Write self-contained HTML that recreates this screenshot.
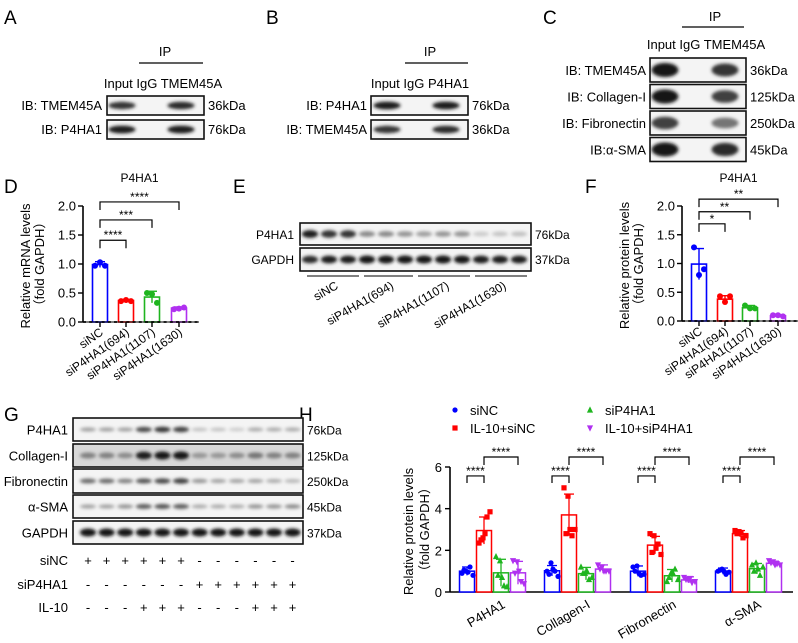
<!DOCTYPE html>
<html><head><meta charset="utf-8"><style>
html,body{margin:0;padding:0;background:#fff;}
svg{display:block;font-family:"Liberation Sans",Arial,sans-serif;}
.nar{font-family:"Liberation Sans Narrow","Liberation Sans",Arial,sans-serif;}
</style></head><body>
<svg id="fig" width="798" height="643" viewBox="0 0 798 643" xmlns="http://www.w3.org/2000/svg">
<defs>
<filter id="blur" x="-50%" y="-100%" width="200%" height="300%"><feGaussianBlur stdDeviation="1.6"/></filter>
</defs>
<g id="root"></g>
</svg>
<script>
// ---------- Panel D data ----------
const dCats = ["siNC","siP4HA1(694)","siP4HA1(1107)","siP4HA1(1630)"];
const dMeans = [0.99,0.37,0.43,0.24];
const dSD = [0.05,0.02,0.10,0.02];
const dPoints = [[0.97,0.97,1.03],[0.36,0.36,0.38],[0.50,0.33,0.48],[0.22,0.25,0.23]];
const dTicks = [0,0.5,1.0,1.5,2.0];
const dSig = ["****","***","****"];
// ---------- Panel F data ----------
const fCats = ["siNC","siP4HA1(694)","siP4HA1(1107)","siP4HA1(1630)"];
const fMeans = [0.99,0.38,0.23,0.09];
const fSD = [0.27,0.06,0.04,0.02];
const fPoints = [[1.28,0.90,0.80],[0.43,0.43,0.33],[0.27,0.22,0.22],[0.10,0.08,0.10]];
const fTicks = [0,0.5,1.0,1.5,2.0];
const fSig = ["*","**","**"];
// ---------- Panel H data ----------
const hCats = ["P4HA1","Collagen-I","Fibronectin","α-SMA"];
const hSeries = ["siNC","IL-10+siNC","siP4HA1","IL-10+siP4HA1"];
const hMeans = [[1.0,1.02,1.0,1.0],[2.95,3.7,2.25,2.8],[0.92,0.88,0.78,1.12],[0.92,1.1,0.58,1.38]];
const hSD = [[0.2,0.25,0.25,0.15],[0.65,1.0,0.42,0.15],[0.65,0.3,0.3,0.25],[0.55,0.2,0.15,0.1]];
const hPoints = [
 [[0.9,1.0,1.2,0.8,1.05,0.95],[1.0,1.4,1.0,0.75,0.85,1.1],[1.2,1.25,0.8,0.85,1.0,0.9],[1.0,1.1,0.85,0.95,1.05,1.0]],
 [[2.35,2.6,3.6,3.85,2.5,2.8],[5.0,4.6,2.7,3.0,2.8,3.0],[2.8,2.7,2.3,1.8,1.9,2.1],[2.95,2.9,2.6,2.7,2.8,2.85]],
 [[1.7,1.5,0.3,0.25,0.8,0.7],[1.2,0.9,0.6,0.7,0.9,1.0],[0.5,0.9,1.1,0.6,0.7,0.9],[1.3,1.4,0.8,1.2,1.0,1.1]],
 [[1.5,1.45,0.5,0.4,0.9,1.0],[1.3,1.2,1.0,1.0,1.1,1.0],[0.7,0.6,0.45,0.5,0.6,0.65],[1.5,1.45,1.35,1.3,1.4,1.3]]
];
const hTicks = [0,2,4,6];
const hSig = ["****","****"];

const NS="http://www.w3.org/2000/svg";
const root=document.getElementById('root');
function mk(tag,attrs,parent,text){const e=document.createElementNS(NS,tag);for(const k in attrs)e.setAttribute(k,attrs[k]);if(text!==undefined)e.textContent=text;(parent||root).appendChild(e);return e;}
function grp(name,parent){const g=mk('g',{},parent);


return g;}
function txt(parent,x,y,s,size,anchor,name,extra){const t=mk('text',Object.assign({x:x,y:y,'font-size':size,'text-anchor':anchor||'start',fill:'#000'},extra||{}),parent,s);


return t;}
const colors=["#0000ff","#ff0000","#1fb51f","#b030f0"];
const N={class:'nar'};

// ---------- panel letters ----------
const letters=[["A",4,24],["B",266,24],["C",543,24],["D",4,193],["E",233,193],["F",585,193],["G",4,421],["H",299,421]];
letters.forEach(l=>txt(root,l[1],l[2],l[0],19,'start','panel-label-'+l[0].toLowerCase()));

// ---------- blot helper ----------
function blot(parent,x,y,w,h,lanes,intens,bh,name){
 const g=grp(name,parent);
 mk('rect',{x:x,y:y,width:w,height:h,fill:'#f4f4f4',stroke:'#111','stroke-width':1.6},g);
 lanes.forEach((lx,i)=>{const v=intens[i];if(v<=0)return;
  const gray=Math.round(235-215*v);
  const e=mk('ellipse',{cx:lx,cy:y+h/2,rx:(w/lanes.length)*0.42,ry:bh*(0.5+0.5*v),fill:`rgb(${gray},${gray},${gray})`,filter:'url(#blur)'},g);
  
  
 });
 return g;}

// ---------- Panel A ----------
const pA=grp('panel-a');
txt(pA,165,56,"IP",13,'middle','ip-label',N);
mk('line',{x1:139,y1:63,x2:203,y2:63,stroke:'#000','stroke-width':1.2},pA);
txt(pA,163,88,"Input IgG TMEM45A",13,'middle','lane-labels',N);
blot(pA,107,96,97,19,[122,151,181],[0.85,0,0.9],4,'blot-a-tmem45a');
blot(pA,107,120,97,19,[122,151,181],[0.95,0,0.95],4,'blot-a-p4ha1');
txt(pA,102,110,"IB: TMEM45A",13,'end','ib-tmem45a',N);
txt(pA,102,134,"IB: P4HA1",13,'end','ib-p4ha1',N);
txt(pA,208,110,"36kDa",13,'start','kda-36',N);
txt(pA,208,134,"76kDa",13,'start','kda-76',N);
// ---------- Panel B ----------
const pB=grp('panel-b');
txt(pB,430,56,"IP",13,'middle','ip-label',N);
mk('line',{x1:405,y1:63,x2:468,y2:63,stroke:'#000','stroke-width':1.2},pB);
txt(pB,420,88,"Input IgG P4HA1",13,'middle','lane-labels',N);
blot(pB,371,96,97,19,[387,416,446],[0.95,0,0.95],4,'blot-b-p4ha1');
blot(pB,371,120,97,19,[387,416,446],[0.85,0,0.9],4,'blot-b-tmem45a');
txt(pB,367,110,"IB: P4HA1",13,'end','ib-p4ha1',N);
txt(pB,367,134,"IB: TMEM45A",13,'end','ib-tmem45a',N);
txt(pB,472,110,"76kDa",13,'start','kda-76',N);
txt(pB,472,134,"36kDa",13,'start','kda-36',N);
// ---------- Panel C ----------
const pC=grp('panel-c');
txt(pC,715,21,"IP",13,'middle','ip-label',N);
mk('line',{x1:682,y1:27,x2:744,y2:27,stroke:'#000','stroke-width':1.2},pC);
txt(pC,706,49,"Input IgG TMEM45A",13,'middle','lane-labels',N);
const cRows=[["IB: TMEM45A","36kDa",[1,0,0.85]],["IB: Collagen-I","125kDa",[1,0,0.8]],["IB: Fibronectin","250kDa",[0.8,0,0.55]],["IB:α-SMA","45kDa",[1,0,0.9]]];
cRows.forEach((r,i)=>{const y=58+i*26.5;
 blot(pC,650,y,96,24,[665,694,725],r[2],7,'blot-c-row-'+i);
 txt(pC,646,y+17,r[0],13,'end','ib-label-'+i,N);
 txt(pC,750,y+17,r[1],13,'start','kda-label-'+i,N);});

// ---------- Panel E ----------
const pE=grp('panel-e');
const eLanes=[];for(let i=0;i<12;i++)eLanes.push(310+i*19);
blot(pE,300,223,231,22,eLanes,[0.95,0.85,0.85,0.45,0.45,0.4,0.35,0.4,0.4,0.15,0.18,0.2],4,'blot-e-p4ha1');
blot(pE,300,248,231,23,eLanes,[0.9,0.95,0.95,1,1,1,1,1,1,0.95,0.95,0.95],4,'blot-e-gapdh');
txt(pE,294,239,"P4HA1",12,'end','row-label-p4ha1');
txt(pE,294,264,"GAPDH",12,'end','row-label-gapdh');
txt(pE,535,239,"76kDa",12,'start','kda-76');
txt(pE,535,264,"37kDa",12,'start','kda-37');
const eGroups=[[307,359],[364,413],[418,470],[475,527]];
eGroups.forEach((gp,i)=>{mk('line',{x1:gp[0],y1:276,x2:gp[1],y2:276,stroke:'#000','stroke-width':1},pE);
 const cx=(gp[0]+gp[1])/2+6;
 txt(pE,cx,288,dCats[i],12,'end','e-group-label-'+i,{transform:`rotate(-30 ${cx} 288)`});});

// ---------- small bar chart helper ----------
function smallChart(name,ox,y0,ytop,cx,cats,means,sd,pts,ticks,sig,sigY,title,ylab1){
 const g=grp(name);
 const sc=(y0-ytop)/2.0; const Y=v=>y0-v*sc;
 txt(g,(cx[0]+cx[3])/2,182,title,12,'middle','chart-title');
 mk('line',{x1:ox,y1:Y(2.0),x2:ox,y2:y0,stroke:'#000','stroke-width':1.6},g);
 ticks.forEach(t=>{mk('line',{x1:ox-5,y1:Y(t),x2:ox,y2:Y(t),stroke:'#000','stroke-width':1.4},g);
  txt(g,ox-7,Y(t)+4.5,t.toFixed(1),13,'end','y-tick-label');});
 txt(g,0,0,ylab1,13,'middle','y-axis-title',{transform:`translate(${ox-53},${(y0+Y(2))/2+2}) rotate(-90)`});
 txt(g,0,0,"（fold GAPDH）",13,'middle','y-axis-subtitle',{transform:`translate(${ox-39},${(y0+Y(2))/2}) rotate(-90)`});
 cats.forEach((c,i)=>{
  const x=cx[i],col=colors[i];
  const b=mk('rect',{x:x-7.5,y:Y(means[i]),width:15,height:y0-Y(means[i]),fill:'#fff',stroke:col,'stroke-width':1.6},g);
  
  
  const top=Y(means[i]+sd[i]),bot=Y(Math.max(0,means[i]-sd[i]));
  mk('line',{x1:x,y1:top,x2:x,y2:bot,stroke:col,'stroke-width':1.4},g);
  mk('line',{x1:x-5,y1:top,x2:x+5,y2:top,stroke:col,'stroke-width':1.4},g);
  const off=[-5,5,0];
  pts[i].forEach((p,j)=>{const d=mk('circle',{cx:x+off[j],cy:Y(p),r:3,fill:col},g);
   
   });
  mk('line',{x1:x,y1:y0,x2:x,y2:y0+5,stroke:'#000','stroke-width':1.4},g);
  txt(g,x+4,y0+12,c,12,'end','x-tick-label',{transform:`rotate(-35 ${x+4} ${y0+12})`});
 });
 mk('line',{x1:ox,y1:y0,x2:cx[3]+20,y2:y0,stroke:'#000','stroke-width':1.8,'stroke-dasharray':'3 3.2'},g);
 mk('line',{x1:ox,y1:y0,x2:cx[3]+20,y2:y0,stroke:'#000','stroke-width':1},g);
 sig.forEach((s,k)=>{const yy=Y(sigY[k]),x1=cx[0],x2=cx[k+1];
  mk('polyline',{points:`${x1},${yy+8} ${x1},${yy} ${x2},${yy} ${x2},${yy+8}`,fill:'none',stroke:'#000','stroke-width':1.2},g);
  txt(g,(x1+x2)/2,yy-1,s,12,'middle','significance-'+k);});
 return g;}
smallChart('chart-d-mrna',83,322,206,[100,126,152,179],dCats,dMeans,dSD,dPoints,dTicks,dSig,[1.41,1.76,2.07],"P4HA1","Relative mRNA levels");
smallChart('chart-f-protein',682,321,206,[699,725,750,778],fCats,fMeans,fSD,fPoints,fTicks,fSig,[1.69,1.9,2.12],"P4HA1","Relative protein levels");

// ---------- Panel G ----------
const pG=grp('panel-g');
const gLanes=[];for(let i=0;i<12;i++)gLanes.push(88+i*18.6);
const gRows=[["P4HA1","76kDa",418,23,[.35,.35,.35,.75,.85,.8,.2,.2,.15,.3,.3,.3],3],
 ["Collagen-I","125kDa",444,23,[.5,.5,.45,.95,1,1,.4,.4,.45,.55,.5,.5],4],
 ["Fibronectin","250kDa",469,24,[.6,.6,.5,.7,.75,.8,.4,.35,.35,.35,.3,.25],3],
 ["α-SMA","45kDa",495,23,[.35,.35,.4,.65,.7,.65,.3,.3,.3,.4,.4,.45],3],
 ["GAPDH","37kDa",521,23,[1,1,1,1,1,1,1,1,1,1,1,1],4]];
gRows.forEach((r,i)=>{const g=blot(pG,73,r[2],230,r[3],gLanes,r[4],r[5],'blot-g-'+i);
 if(i==1) g.firstChild.setAttribute('fill','#d8d8d8');
 txt(pG,68,r[2]+r[3]/2+5,r[0],13,'end','g-row-label-'+i);
 txt(pG,307,r[2]+r[3]/2+5,r[1],12,'start','g-kda-'+i);});
const treat=[["siNC",560,"++++++------"],["siP4HA1",584,"------++++++"],["IL-10",607,"---+++---+++"]];
treat.forEach((t,i)=>{txt(pG,68,t[1]+5,t[0],13,'end','treatment-label-'+i);
 for(let k=0;k<12;k++) txt(pG,gLanes[k],t[1]+5,t[2][k]=='+'?'+':'-',13,'middle','treatment-sign');});

// ---------- Panel H ----------
const pH=grp('chart-h');
const hy0=592,hsc=125/6; const HY=v=>hy0-v*hsc; const hOx=450;
const gStart=[467,552,638,723];
const markers=['circle','square','tri','itri'];
function marker(g,t,x,y,col,s){let e;
 if(t=='circle')e=mk('circle',{cx:x,cy:y,r:s,fill:col},g);
 else if(t=='square')e=mk('rect',{x:x-s,y:y-s,width:2*s,height:2*s,fill:col},g);
 else if(t=='tri')e=mk('polygon',{points:`${x},${y-s-1} ${x-s-0.5},${y+s} ${x+s+0.5},${y+s}`,fill:col},g);
 else e=mk('polygon',{points:`${x},${y+s+1} ${x-s-0.5},${y-s} ${x+s+0.5},${y-s}`,fill:col},g);
 return e;}
mk('line',{x1:hOx,y1:HY(6),x2:hOx,y2:hy0,stroke:'#000','stroke-width':1.6},pH);
mk('line',{x1:hOx,y1:hy0,x2:793,y2:hy0,stroke:'#000','stroke-width':1.6},pH);
hTicks.forEach(t=>{mk('line',{x1:hOx-5,y1:HY(t),x2:hOx,y2:HY(t),stroke:'#000','stroke-width':1.4},pH);
 txt(pH,hOx-8,HY(t)+5,String(t),13,'end','y-tick-label');});
txt(pH,0,0,"Relative protein levels",13,'middle','y-axis-title',{transform:`translate(413,${(hy0+HY(6))/2+2}) rotate(-90)`});
txt(pH,0,0,"（fold GAPDH）",13,'middle','y-axis-subtitle',{transform:`translate(429,${(hy0+HY(6))/2}) rotate(-90)`});
hCats.forEach((c,ci)=>{
 const xs=[0,1,2,3].map(s=>gStart[ci]+s*17);
 hSeries.forEach((sname,s)=>{const x=xs[s],col=colors[s],m=hMeans[s][ci],sd=hSD[s][ci];
  const b=mk('rect',{x:x-7.5,y:HY(m),width:15,height:hy0-HY(m),fill:'#fff',stroke:col,'stroke-width':1.5},pH);
  
  
  const top=HY(m+sd),bot=HY(Math.max(0,m-sd));
  mk('line',{x1:x,y1:top,x2:x,y2:bot,stroke:col,'stroke-width':1.3},pH);
  mk('line',{x1:x-5,y1:top,x2:x+5,y2:top,stroke:col,'stroke-width':1.3},pH);
  const off=[-5,-1,3,6,-3,1];
  hPoints[s][ci].forEach((p,j)=>{const e=marker(pH,markers[s],x+off[j],HY(p),col,2.6);
   
   });
 });
 txt(pH,xs[2]+5,607,c,13,'end','x-tick-label',{transform:`rotate(-30 ${xs[2]+5} 607)`});
 const y1=HY(5.57),y2=HY(6.48);
 mk('polyline',{points:`${xs[0]},${y1+7} ${xs[0]},${y1} ${xs[1]},${y1} ${xs[1]},${y1+7}`,fill:'none',stroke:'#000','stroke-width':1.2},pH);
 txt(pH,(xs[0]+xs[1])/2,y1-1,hSig[0],12,'middle','significance');
 mk('polyline',{points:`${xs[1]},${y2+8} ${xs[1]},${y2} ${xs[3]},${y2} ${xs[3]},${y2+8}`,fill:'none',stroke:'#000','stroke-width':1.2},pH);
 txt(pH,(xs[1]+xs[3])/2,y2-1,hSig[1],12,'middle','significance');
});
const legPos=[[455,410],[455,428],[590,410],[590,428]];
hSeries.forEach((s,i)=>{const lg=grp('legend-entry-'+i,pH);
 marker(lg,markers[i],legPos[i][0],legPos[i][1],colors[i],2.6);
 txt(lg,legPos[i][0]+15,legPos[i][1]+5,s,13,'start','legend-label');});
</script>
</body></html>
